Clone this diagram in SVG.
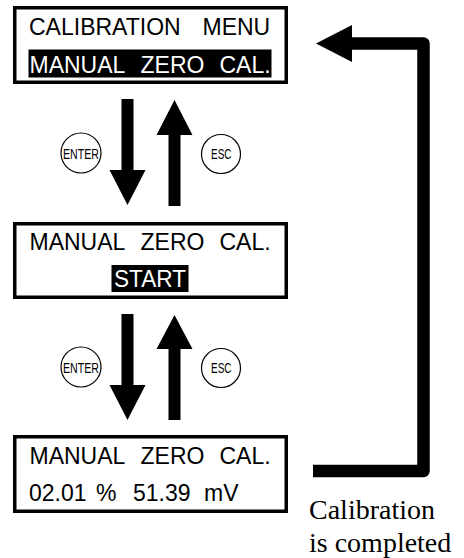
<svg xmlns="http://www.w3.org/2000/svg" width="464" height="558" viewBox="0 0 464 558">
<style>
.box{fill:#fff;stroke:#000;stroke-width:3.5}
.lcd{font-family:"Liberation Sans",Arial,sans-serif;font-size:23px;fill:#000}
.inv{fill:#fff}
.hl{fill:#000}
.btn{fill:#fff;stroke:#000;stroke-width:1.2}
.btxt{font-family:"Liberation Sans",Arial,sans-serif;font-size:14.5px;fill:#000}
.arr{fill:#000;stroke:none}
.ret{fill:none;stroke:#000;stroke-width:12.5;stroke-linejoin:round}
.note{font-family:"Liberation Serif","Times New Roman",serif;font-size:28px;fill:#000}
</style>
<rect width="464" height="558" fill="#fff"/>

<g id="node-calibration-menu">
<rect class="box" x="14.75" y="7.75" width="271.5" height="74.5"/>
<text class="lcd" y="35" font-size="22.5"><tspan x="29">CALIBRATION</tspan><tspan x="202.5">MENU</tspan></text>
<rect class="hl" x="28.5" y="49.5" width="243" height="28"/>
<text class="lcd inv" y="72.5"><tspan x="29.5">MANUAL</tspan><tspan x="140.5">ZERO</tspan><tspan x="219.5">CAL.</tspan></text>
</g>

<g id="node-manual-zero-start">
<rect class="box" x="14.75" y="223.75" width="271.5" height="73.5"/>
<text class="lcd" y="250"><tspan x="29.5">MANUAL</tspan><tspan x="140.5">ZERO</tspan><tspan x="219.5">CAL.</tspan></text>
<rect class="hl" x="111.5" y="265" width="77" height="27"/>
<text class="lcd inv" x="114" y="286.5" textLength="72" lengthAdjust="spacingAndGlyphs">START</text>
</g>

<g id="node-manual-zero-value">
<rect class="box" x="14.75" y="436.75" width="271.5" height="74.5"/>
<text class="lcd" y="464"><tspan x="29.5">MANUAL</tspan><tspan x="140.5">ZERO</tspan><tspan x="219.5">CAL.</tspan></text>
<text class="lcd" y="501"><tspan x="29">02.01</tspan><tspan x="96">%</tspan><tspan x="133">51.39</tspan><tspan x="204">mV</tspan></text>
</g>

<g id="btn-enter-1"><circle class="btn" cx="81" cy="153" r="20"/><text class="btxt" x="63" y="158.5" textLength="36" lengthAdjust="spacingAndGlyphs">ENTER</text></g>
<g id="btn-esc-1"><circle class="btn" cx="221" cy="154" r="19.5"/><text class="btxt" x="211" y="159" textLength="20.5" lengthAdjust="spacingAndGlyphs">ESC</text></g>
<g id="btn-enter-2"><circle class="btn" cx="81" cy="367" r="20"/><text class="btxt" x="63" y="372.5" textLength="36" lengthAdjust="spacingAndGlyphs">ENTER</text></g>
<g id="btn-esc-2"><circle class="btn" cx="221" cy="368" r="19.5"/><text class="btxt" x="211" y="373" textLength="20.5" lengthAdjust="spacingAndGlyphs">ESC</text></g>

<g id="connectors">
<polygon class="arr" points="121.5,99 133.5,99 133.5,170 145.5,170 127.5,205 109.5,170 121.5,170"/>
<polygon class="arr" points="174.5,100 192.5,135 180.5,135 180.5,206 168.5,206 168.5,135 156.5,135"/>
<polygon class="arr" points="121.5,314 133.5,314 133.5,385 145.5,385 127.5,420 109.5,385 121.5,385"/>
<polygon class="arr" points="174.5,315 192.5,349 180.5,349 180.5,420 168.5,420 168.5,349 156.5,349"/>
<path class="ret" d="M313,471 H423.5 V43.5 H350"/>
<polygon class="arr" points="352,25 316,43.5 352,62"/>
<text class="note"><tspan x="309" y="519">Calibration</tspan><tspan x="309" y="552">is completed</tspan></text>
</g>
</svg>
